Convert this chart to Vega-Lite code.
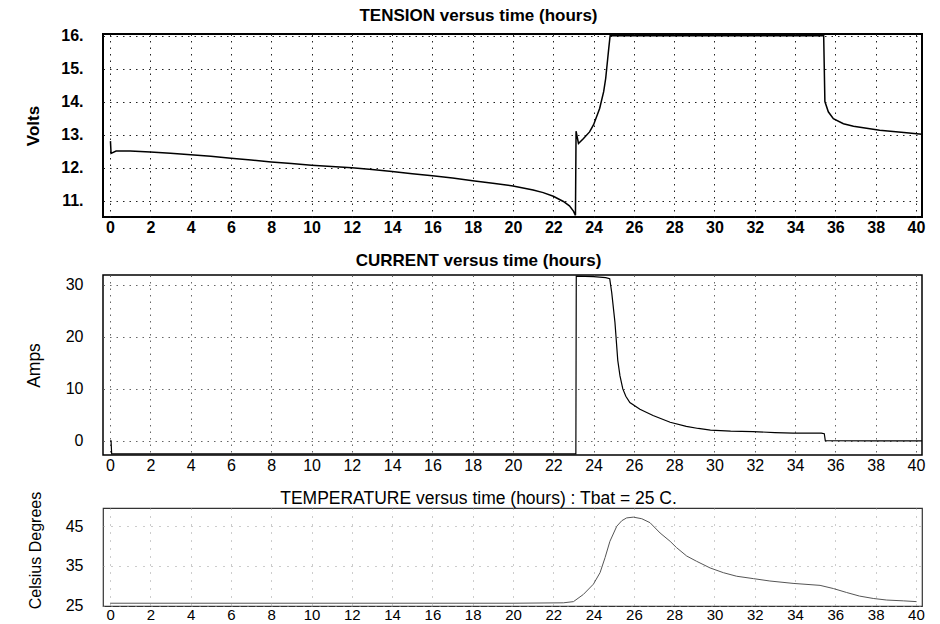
{
  "$schema": "https://vega.github.io/schema/vega-lite/v6.json",
  "background": "white",
  "padding": {"left": 23, "top": 5, "right": 5, "bottom": 0},
  "spacing": 15,
  "config": {
    "font": "Liberation Sans",
    "view": {"stroke": "black"},
    "axis": {"ticks": false, "domain": false, "labelColor": "black", "titleColor": "black", "gridDash": [1.5, 5]},
    "title": {"color": "black", "anchor": "middle", "dx": -34, "frame": "group"}
  },
  "vconcat": [
    {
      "width": 819,
      "height": 183,
      "view": {"stroke": "black", "strokeWidth": 2},
      "title": {"text": "TENSION versus time (hours)", "fontSize": 17, "fontWeight": "bold", "offset": 3},
      "data": {"values": [
        {"t": 0.02, "v": 12.8}, {"t": 0.05, "v": 12.43}, {"t": 0.3, "v": 12.5}, {"t": 1, "v": 12.5},
        {"t": 2, "v": 12.47}, {"t": 3, "v": 12.43}, {"t": 4, "v": 12.39}, {"t": 5, "v": 12.34},
        {"t": 6, "v": 12.28}, {"t": 7, "v": 12.23}, {"t": 8, "v": 12.17}, {"t": 9, "v": 12.12},
        {"t": 10, "v": 12.07}, {"t": 11, "v": 12.03}, {"t": 12, "v": 11.99}, {"t": 13, "v": 11.94},
        {"t": 14, "v": 11.88}, {"t": 15, "v": 11.81}, {"t": 16, "v": 11.75}, {"t": 17, "v": 11.68},
        {"t": 18, "v": 11.6}, {"t": 19, "v": 11.52}, {"t": 20, "v": 11.44}, {"t": 21, "v": 11.32},
        {"t": 21.5, "v": 11.24}, {"t": 22, "v": 11.13}, {"t": 22.5, "v": 10.97}, {"t": 22.8, "v": 10.84},
        {"t": 23.0, "v": 10.68}, {"t": 23.1, "v": 10.55}, {"t": 23.13, "v": 13.1}, {"t": 23.25, "v": 12.73},
        {"t": 23.5, "v": 12.88}, {"t": 23.8, "v": 13.08}, {"t": 24.0, "v": 13.3}, {"t": 24.3, "v": 13.79},
        {"t": 24.5, "v": 14.3}, {"t": 24.6, "v": 14.7}, {"t": 24.7, "v": 15.3}, {"t": 24.75, "v": 15.6},
        {"t": 24.82, "v": 16.0}, {"t": 35.42, "v": 16.0}, {"t": 35.48, "v": 14.0}, {"t": 35.65, "v": 13.69},
        {"t": 35.9, "v": 13.48}, {"t": 36.4, "v": 13.33}, {"t": 36.9, "v": 13.25}, {"t": 38.2, "v": 13.13},
        {"t": 39.4, "v": 13.06}, {"t": 40.3, "v": 13.01}
      ]},
      "mark": {"type": "line", "color": "black", "strokeWidth": 1.5, "clip": true},
      "encoding": {
        "x": {"field": "t", "type": "quantitative",
              "scale": {"domain": [-0.35, 40.3], "nice": false, "zero": false},
              "axis": {"title": null, "values": [0,2,4,6,8,10,12,14,16,18,20,22,24,26,28,30,32,34,36,38,40],
                       "labelFontSize": 16, "labelFontWeight": "bold", "labelPadding": 2,
                       "gridColor": "#222", "gridOpacity": 1, "labelFlush": false}},
        "y": {"field": "v", "type": "quantitative",
              "scale": {"domain": [10.5, 16.05], "nice": false, "zero": false},
              "axis": {"title": "Volts", "values": [11,12,13,14,15,16], "labelExpr": "datum.label + '.'",
                       "labelFontSize": 16, "labelFontWeight": "bold", "labelPadding": 20,
                       "titleFontSize": 17, "titleFontWeight": "bold", "titlePadding": 18,
                       "gridColor": "#222", "gridOpacity": 1}}
      }
    },
    {
      "width": 819,
      "height": 180,
      "view": {"stroke": "black", "strokeWidth": 1.5},
      "title": {"text": "CURRENT versus time (hours)", "fontSize": 17, "fontWeight": "bold", "offset": 5},
      "data": {"values": [
        {"t": 0.0, "a": 0.0}, {"t": 0.05, "a": 0.0}, {"t": 0.08, "a": -2.5}, {"t": 5, "a": -2.5},
        {"t": 10, "a": -2.5}, {"t": 15, "a": -2.5}, {"t": 20, "a": -2.5}, {"t": 23.12, "a": -2.5},
        {"t": 23.14, "a": 31.7}, {"t": 24.0, "a": 31.6}, {"t": 24.6, "a": 31.4}, {"t": 24.8, "a": 31.2},
        {"t": 24.9, "a": 28.5}, {"t": 25.06, "a": 22.8}, {"t": 25.2, "a": 15.5}, {"t": 25.31, "a": 12.5},
        {"t": 25.45, "a": 10.0}, {"t": 25.6, "a": 8.6}, {"t": 25.8, "a": 7.4}, {"t": 26.3, "a": 6.1},
        {"t": 26.95, "a": 4.9}, {"t": 27.8, "a": 3.6}, {"t": 28.6, "a": 2.8}, {"t": 29.2, "a": 2.4},
        {"t": 29.8, "a": 2.1}, {"t": 30.8, "a": 1.9}, {"t": 31.9, "a": 1.8}, {"t": 33.0, "a": 1.6},
        {"t": 33.9, "a": 1.5}, {"t": 35.3, "a": 1.5}, {"t": 35.45, "a": 1.4}, {"t": 35.5, "a": 0.05},
        {"t": 38.0, "a": 0.0}, {"t": 40.3, "a": 0.0}
      ]},
      "mark": {"type": "line", "color": "black", "strokeWidth": 1.2, "clip": true},
      "encoding": {
        "x": {"field": "t", "type": "quantitative",
              "scale": {"domain": [-0.35, 40.3], "nice": false, "zero": false},
              "axis": {"title": null, "values": [0,2,4,6,8,10,12,14,16,18,20,22,24,26,28,30,32,34,36,38,40],
                       "labelFontSize": 16, "labelPadding": 2,
                       "gridColor": "#666", "gridOpacity": 1, "labelFlush": false}},
        "y": {"field": "a", "type": "quantitative",
              "scale": {"domain": [-2.7, 31.9], "nice": false, "zero": false},
              "axis": {"title": "Amps", "values": [0,10,20,30],
                       "labelFontSize": 16, "labelPadding": 20,
                       "titleFontSize": 17.5, "titleFontWeight": "normal", "titlePadding": 22,
                       "gridColor": "#666", "gridOpacity": 1}}
      }
    },
    {
      "width": 819,
      "height": 98,
      "view": {"stroke": "#333", "strokeWidth": 1.2},
      "title": {"text": "TEMPERATURE versus time (hours) : Tbat = 25 C.", "fontSize": 17.5, "fontWeight": "normal", "offset": 0, "dy": 16.5},
      "data": {"values": [
        {"t": 0.0, "c": 25.6}, {"t": 4, "c": 25.6}, {"t": 8, "c": 25.6}, {"t": 12, "c": 25.6},
        {"t": 16, "c": 25.6}, {"t": 20, "c": 25.6}, {"t": 22.5, "c": 25.7}, {"t": 23.0, "c": 26.0},
        {"t": 23.49, "c": 27.8}, {"t": 23.99, "c": 30.4}, {"t": 24.32, "c": 33.3}, {"t": 24.57, "c": 37.1},
        {"t": 24.81, "c": 41.2}, {"t": 25.15, "c": 45.0}, {"t": 25.4, "c": 46.4}, {"t": 25.64, "c": 47.1},
        {"t": 25.97, "c": 47.3}, {"t": 26.39, "c": 46.9}, {"t": 26.8, "c": 45.9}, {"t": 27.3, "c": 43.3},
        {"t": 27.8, "c": 41.2}, {"t": 28.12, "c": 39.6}, {"t": 28.62, "c": 37.5}, {"t": 29.1, "c": 36.2},
        {"t": 29.78, "c": 34.5}, {"t": 30.44, "c": 33.3}, {"t": 31.1, "c": 32.4}, {"t": 31.93, "c": 31.8},
        {"t": 32.75, "c": 31.2}, {"t": 33.9, "c": 30.6}, {"t": 35.24, "c": 30.1}, {"t": 35.9, "c": 29.3},
        {"t": 36.56, "c": 28.3}, {"t": 37.2, "c": 27.4}, {"t": 37.88, "c": 26.8}, {"t": 38.55, "c": 26.4},
        {"t": 39.37, "c": 26.2}, {"t": 40.03, "c": 26.0}
      ]},
      "mark": {"type": "line", "color": "#555", "strokeWidth": 1, "clip": true},
      "encoding": {
        "x": {"field": "t", "type": "quantitative",
              "scale": {"domain": [-0.35, 40.3], "nice": false, "zero": false},
              "axis": {"title": null, "values": [0,2,4,6,8,10,12,14,16,18,20,22,24,26,28,30,32,34,36,38,40],
                       "labelFontSize": 15, "labelPadding": 1,
                       "gridColor": "#999", "gridOpacity": 1, "gridDash": [1, 7], "labelFlush": false}},
        "y": {"field": "c", "type": "quantitative",
              "scale": {"domain": [24.9, 49.6], "nice": false, "zero": false},
              "axis": {"title": "Celsius Degrees", "values": [25,35,45],
                       "labelFontSize": 16, "labelPadding": 20,
                       "titleFontSize": 16, "titleFontWeight": "normal", "titlePadding": 22, "titleY": 42,
                       "gridColor": "#999", "gridOpacity": 1, "gridDash": [1, 7]}}
      }
    }
  ]
}
